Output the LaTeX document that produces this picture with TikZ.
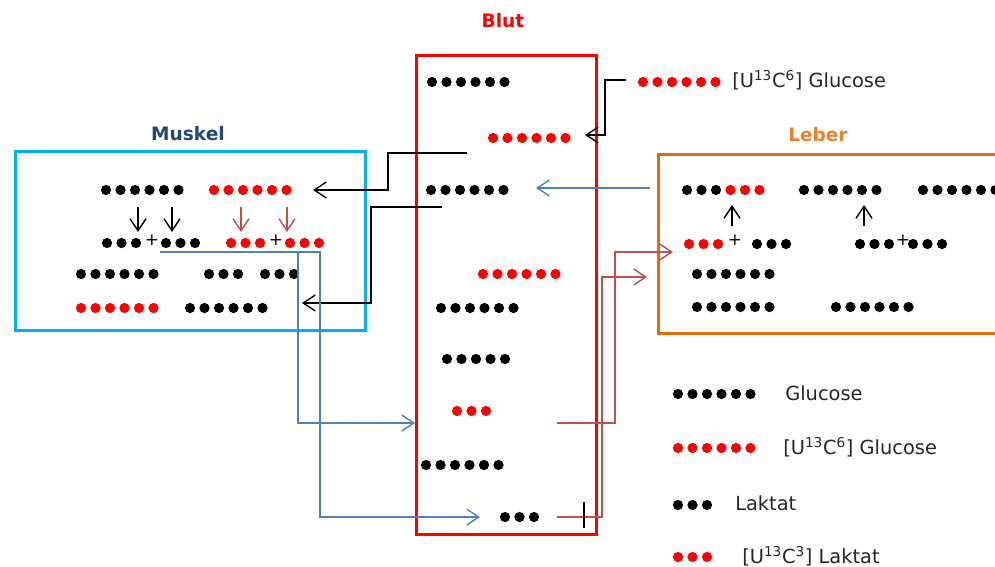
\documentclass[tikz,border=0pt]{standalone}
\usepackage{fontspec}
\setmainfont{DejaVu Sans}
\usepackage{tikz}
\usetikzlibrary{arrows.meta, positioning, calc}
\definecolor{bk}{RGB}{0,0,0}
\definecolor{rd}{RGB}{255,0,0}
\definecolor{muskelcyan}{RGB}{0,176,240}
\definecolor{muskeltitle}{RGB}{31,73,125}
\definecolor{leberorange}{RGB}{228,108,10}
\definecolor{linkblue}{RGB}{79,129,189}
\definecolor{linkred}{RGB}{192,80,77}
\tikzset{
  organ/.style   = {rectangle, draw, line width=0.7mm, anchor=north west, inner sep=0pt},
  organname/.style = {font=\fontsize{13.2}{15}\selectfont\bfseries, inner sep=1pt},
  legtext/.style = {anchor=west, inner sep=0pt, text=black!85,
                    font=\fontsize{13.8}{16}\selectfont},
  plus/.style    = {font=\fontsize{12}{14}\selectfont, inner sep=0pt},
  flow/.style    = {line width=0.35mm, -{Straight Barb[length=3mm, width=4mm]}},
  flowk/.style   = {flow, black},
  flowb/.style   = {flow, linkblue},
  flowr/.style   = {flow, linkred},
}
% one molecule: a row of carbon atoms
\newcommand{\chain}[3]{%
  \coordinate (#1) at (#2);
  \foreach \col [count=\i from 0] in {#3}
    \fill[\col] ($(#1)+(\i*14.5,0)$) circle[radius=1.28mm];
}

\begin{document}
\begin{tikzpicture}[x=0.25mm, y=-0.25mm]
  \useasboundingbox (0,0) rectangle (995,567);
  \clip (0,0) rectangle (995,567);

  % Organe
  \node[organ, muskelcyan, minimum width=87.5mm, minimum height=44.75mm] (muskel) at (14,150) {};
  \node[organ, red, minimum width=45mm, minimum height=119.75mm] (blut) at (415,54) {};
  \node[organ, leberorange, minimum width=90mm, minimum height=44.75mm] (leber) at (657,153) {};
  \node[organname, text=muskeltitle] (muskeltxt) at (188,134) {Muskel};
  \node[organname, text=red] (bluttxt) at (503,21) {Blut};
  \node[organname, text=leberorange!85] (lebertxt) at (818,135) {Leber};

  % Muskel
  \chain{mGlc}{106,190}{bk,bk,bk,bk,bk,bk}
  \chain{mGlcL}{214,190}{rd,rd,rd,rd,rd,rd}
  \chain{mLacA}{107,243}{bk,bk,bk}
  \node[plus] (mPlusA) at (152,240) {+};
  \chain{mLacB}{166,243}{bk,bk,bk}
  \chain{mLacLA}{231,243}{rd,rd,rd}
  \node[plus] (mPlusB) at (276,240) {+};
  \chain{mLacLB}{290,243}{rd,rd,rd}
  \chain{mGlyA}{81,274}{bk,bk,bk,bk,bk,bk}
  \chain{mLacC}{209,274}{bk,bk,bk}
  \chain{mLacD}{265,274}{bk,bk,bk}
  \chain{mGlyL}{81,308}{rd,rd,rd,rd,rd,rd}
  \chain{mGlyB}{190,308}{bk,bk,bk,bk,bk,bk}
  \draw[flowk] ([shift={(32,17)}]mGlc) -- ++(0,25);
  \draw[flowk] ([shift={(66,17)}]mGlc) -- ++(0,25);
  \draw[flowr] ([shift={(27,17)}]mGlcL) -- ++(0,25);
  \draw[flowr] ([shift={(73,17)}]mGlcL) -- ++(0,25);

  % Blut
  \chain{bGlcA}{432,82}{bk,bk,bk,bk,bk,bk}
  \chain{bGlcL}{493,138}{rd,rd,rd,rd,rd,rd}
  \chain{bGlcB}{431,190}{bk,bk,bk,bk,bk,bk}
  \chain{bGlcLB}{483,274}{rd,rd,rd,rd,rd,rd}
  \chain{bGlcC}{441,308}{bk,bk,bk,bk,bk,bk}
  \chain{bGlcD}{447,359}{bk,bk,bk,bk,bk}
  \chain{bLacL}{457,411}{rd,rd,rd}
  \chain{bGlcE}{426,465}{bk,bk,bk,bk,bk,bk}
  \chain{bLac}{505,517}{bk,bk,bk}

  % Leber
  \chain{lGlcMix}{687,190}{bk,bk,bk,rd,rd,rd}
  \chain{lGlcA}{804,190}{bk,bk,bk,bk,bk,bk}
  \chain{lGlcB}{923,190}{bk,bk,bk,bk,bk,bk}
  \chain{lLacL}{689,244}{rd,rd,rd}
  \node[plus] (lPlusA) at (735,240) {+};
  \chain{lLacA}{757,244}{bk,bk,bk}
  \chain{lLacB}{860,244}{bk,bk,bk}
  \node[plus] (lPlusB) at (903,240) {+};
  \chain{lLacC}{913,244}{bk,bk,bk}
  \chain{lGlyA}{697,274}{bk,bk,bk,bk,bk,bk}
  \chain{lGlyB}{697,307}{bk,bk,bk,bk,bk,bk}
  \chain{lGlyC}{836,307}{bk,bk,bk,bk,bk,bk}
  \draw[flowk] ([shift={(43,-18)}]lLacL) -- ++(0,-21);
  \draw[flowk] ([shift={(4,-18)}]lLacB) -- ++(0,-21);

  % Infusion
  \chain{infGlc}{643,82}{rd,rd,rd,rd,rd,rd}
  \node[legtext] (inftxt) at (732,80) {[U\textsuperscript{13}C\textsuperscript{6}] Glucose};

  % Fluesse
  \coordinate (infOut) at (626,80);
  \coordinate (bIn) at (585,135);
  \draw[flowk] (infOut) -- ++(-21,0) |- (bIn);
  \coordinate (bOutA) at (467,153);
  \coordinate (mInA) at (313,190);
  \draw[flowk] (bOutA) -- ++(-79,0) |- (mInA);
  \coordinate (bOutB) at (442,207);
  \coordinate (mInB) at (302,303);
  \draw[flowk] (bOutB) -- ++(-71,0) |- (mInB);
  \coordinate (lOut) at (650,188);
  \coordinate (bInB) at (536,188);
  \draw[flowb] (lOut) -- (bInB);
  \coordinate (mOut) at (160,252);
  \coordinate (bInC) at (415,423);
  \coordinate (bInD) at (480,517);
  \draw[flowb] (mOut) -- ++(138,0) |- (bInC);
  \draw[flowb] (mOut) -- ++(160,0) |- (bInD);
  \coordinate (bOutC) at (557,423);
  \coordinate (lInA) at (673,252);
  \draw[flowr] (bOutC) -- ++(58,0) |- (lInA);
  \coordinate (bOutD) at (557,517);
  \coordinate (lInB) at (647,277);
  \draw[flowr] (bOutD) -- ++(45,0) |- (lInB);
  \draw[line width=0.6mm] (584,502) -- (584,528);

  % Legende
  \chain{legA}{678,394}{bk,bk,bk,bk,bk,bk}
  \node[legtext] (legAtxt) at (785,393) {Glucose};
  \chain{legB}{678,448}{rd,rd,rd,rd,rd,rd}
  \node[legtext] (legBtxt) at (783,447) {[U\textsuperscript{13}C\textsuperscript{6}] Glucose};
  \chain{legC}{678,505}{bk,bk,bk}
  \node[legtext] (legCtxt) at (735,503) {Laktat};
  \chain{legD}{678,557}{rd,rd,rd}
  \node[legtext] (legDtxt) at (742,556) {[U\textsuperscript{13}C\textsuperscript{3}] Laktat};
\end{tikzpicture}
\end{document}
